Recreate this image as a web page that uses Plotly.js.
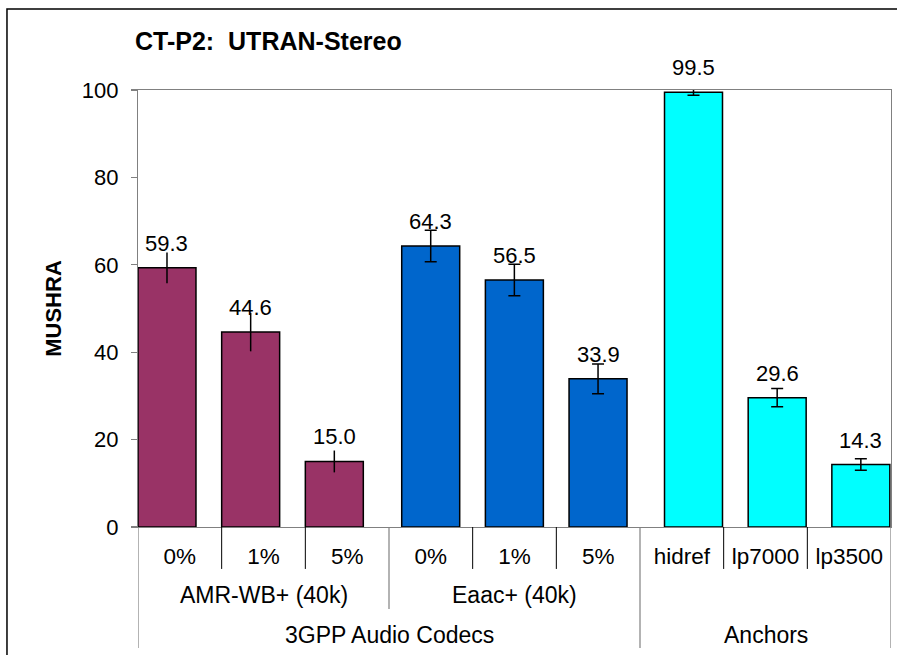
<!DOCTYPE html>
<html>
<head>
<meta charset="utf-8">
<script src="https://cdn.plot.ly/plotly-3.0.1.min.js"></script>
<style>
  html, body { margin: 0; padding: 0; background: #ffffff; }
  #chart { width: 897px; height: 655px; }
</style>
</head>
<body>
<div id="chart"></div>
<script>
// ---- data ----
const categories = ['0%', '1%', '5%', '0%', '1%', '5%', 'hidref', 'lp7000', 'lp3500'];
const amrValues = [59.3, 44.6, 15.0];
const amrErrors = [3.5, 4.4, 2.5];
const eaacValues = [64.3, 56.5, 33.9];
const eaacErrors = [3.6, 3.6, 3.4];
const anchorValues = [99.5, 29.6, 14.3];
const anchorErrors = [0.7, 2.1, 1.3];
const level2Labels = ['AMR-WB+ (40k)', 'Eaac+ (40k)'];
const level3Labels = ['3GPP Audio Codecs', 'Anchors'];
const titleText = 'CT-P2:\u00a0 UTRAN-Stereo';
const yTitle = 'MUSHRA';

// ---- style ----
const FONT = 'Liberation Sans, Arial, sans-serif';
const BAR_W = 0.693;
const groups = [
  {name: 'AMR-WB+ (40k)', start: 0, values: amrValues, errors: amrErrors, color: '#993366', offset: -0.5, capw: 0},
  {name: 'Eaac+ (40k)', start: 3, values: eaacValues, errors: eaacErrors, color: '#0066CC', offset: -0.348, capw: 6},
  {name: 'Anchors', start: 6, values: anchorValues, errors: anchorErrors, color: '#00FFFF', offset: -0.207, capw: 6}
];

const traces = [];
const annotations = [];
groups.forEach(g => {
  const xs = g.values.map((v, i) => g.start + i);
  traces.push({
    type: 'bar',
    x: xs,
    y: g.values,
    name: g.name,
    width: BAR_W,
    offset: g.offset,
    marker: {color: g.color, line: {color: '#000000', width: 1.5}},
    error_y: {type: 'data', array: g.errors, visible: true, color: '#000000', thickness: 1.5, width: g.capw},
    hoverinfo: 'skip',
    showlegend: false
  });
  g.values.forEach((v, i) => {
    annotations.push({
      xref: 'x', yref: 'y',
      x: xs[i] + g.offset + BAR_W / 2,
      y: v,
      text: v.toFixed(1),
      showarrow: false,
      xanchor: 'center', yanchor: 'bottom',
      yshift: 10,
      font: {family: FONT, size: 22, color: '#000000'}
    });
  });
});

// level-2 and level-3 group labels
const groupFont = {family: FONT, size: 23, color: '#000000'};
annotations.push({xref: 'x', yref: 'paper', x: 1, y: -0.1556, text: level2Labels[0], showarrow: false,
  xanchor: 'center', yanchor: 'middle', font: groupFont});
annotations.push({xref: 'x', yref: 'paper', x: 4, y: -0.1556, text: level2Labels[1], showarrow: false,
  xanchor: 'center', yanchor: 'middle', font: groupFont});
annotations.push({xref: 'x', yref: 'paper', x: 2.5, y: -0.247, text: level3Labels[0], showarrow: false,
  xanchor: 'center', yanchor: 'middle', font: groupFont});
annotations.push({xref: 'x', yref: 'paper', x: 7, y: -0.247, text: level3Labels[1], showarrow: false,
  xanchor: 'center', yanchor: 'middle', font: groupFont});

// separator lines
const shapes = [];
[0.5, 1.5, 3.5, 4.5, 6.5, 7.5].forEach(x => shapes.push({
  type: 'line', xref: 'x', yref: 'paper', x0: x, x1: x, y0: 0, y1: -0.096,
  line: {color: '#000000', width: 1}
}));
shapes.push({type: 'line', xref: 'x', yref: 'paper', x0: 2.5, x1: 2.5, y0: 0, y1: -0.1876,
  line: {color: '#808080', width: 1.2}});
[-0.5, 5.5, 8.5].forEach(x => shapes.push({
  type: 'line', xref: 'x', yref: 'paper', x0: x, x1: x, y0: 0, y1: -0.277,
  line: {color: '#808080', width: 1.2}
}));
// outer chart frame
shapes.push({type: 'rect', xref: 'paper', yref: 'paper', x0: -0.174, x1: 1.03, y0: -0.35, y1: 1.1854,
  line: {color: '#000000', width: 1.5}, fillcolor: 'rgba(0,0,0,0)'});

const layout = {
  width: 897, height: 655,
  margin: {l: 138, r: 6, t: 90, b: 128},
  paper_bgcolor: '#ffffff', plot_bgcolor: '#ffffff',
  barmode: 'overlay',
  font: {family: FONT, color: '#000000'},
  title: {
    text: '<b>' + titleText + '</b>',
    x: 135 / 897, xanchor: 'left', xref: 'container',
    y: 1 - 41 / 655, yanchor: 'middle', yref: 'container',
    font: {family: FONT, size: 25, color: '#000000'}
  },
  xaxis: {
    range: [-0.5, 8.5],
    tickvals: categories.map((c, i) => i),
    ticktext: categories,
    ticks: '',
    showgrid: false, zeroline: false,
    showline: true, linecolor: '#808080', linewidth: 1.2, mirror: true,
    tickfont: {family: FONT, size: 22.5, color: '#000000'},
    ticklabelstandoff: 9,
    fixedrange: true
  },
  yaxis: {
    range: [0, 100],
    tickvals: [0, 20, 40, 60, 80, 100],
    ticks: 'outside', ticklen: 6, tickcolor: '#808080', tickwidth: 1.2,
    showgrid: false, zeroline: false,
    showline: true, linecolor: '#808080', linewidth: 1.2, mirror: true,
    tickfont: {family: FONT, size: 22, color: '#000000'},
    ticklabelstandoff: 8,
    title: {text: '<b>' + yTitle + '</b>', font: {family: FONT, size: 22, color: '#000000'}, standoff: 14},
    fixedrange: true
  },
  annotations: annotations,
  shapes: shapes,
  showlegend: false
};

Plotly.newPlot('chart', traces, layout, {displayModeBar: false, staticPlot: true});
</script>
</body>
</html>
